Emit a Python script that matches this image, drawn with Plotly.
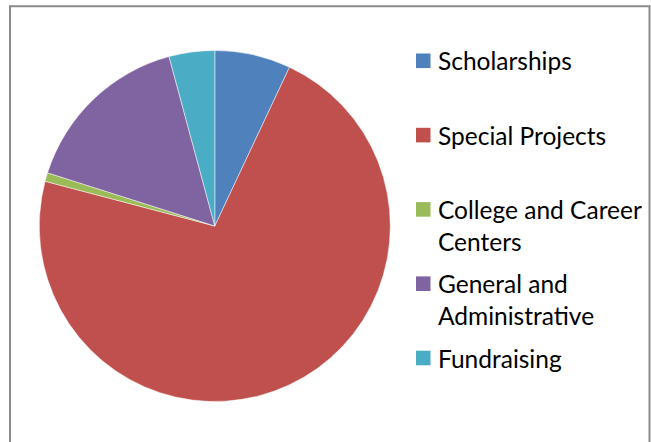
import plotly.graph_objects as go

W, H = 651, 442

categories = ["Scholarships", "Special Projects", "College and Career<br>Centers",
              "General and<br>Administrative", "Fundraising"]
values = [7.0, 72.1, 0.8, 15.9, 4.2]
colors = ["#4F81BD", "#C0504D", "#9BBB59", "#8064A2", "#4BACC6"]

fig = go.Figure(go.Pie(
    labels=categories,
    values=values,
    sort=False,
    direction="clockwise",
    rotation=0,
    textinfo="none",
    hoverinfo="label+percent",
    showlegend=False,
    marker=dict(colors=colors, line=dict(color="rgba(255,255,255,0.6)", width=0.8)),
    domain=dict(x=[39.3 / W, 390.3 / W], y=[1 - 401.5 / H, 1 - 50.5 / H]),
))

# Legend (Excel-style: equal slots, key aligned with first text line)
FONT = 24.5
LINE = 1.3 * FONT
SLOT = 74.3
TOP = 60.8
shapes = [dict(type="rect", xref="paper", yref="paper",
               x0=10 / W, x1=649.5 / W, y0=-0.2, y1=1 - 6.2 / H,
               line=dict(color="#8A8A8A", width=2), fillcolor="rgba(0,0,0,0)",
               layer="below")]
annotations = []
for i, (lab, col) in enumerate(zip(categories, colors)):
    cy = TOP + i * SLOT
    shapes.append(dict(type="rect", xref="paper", yref="paper",
                       x0=416 / W, x1=430.5 / W,
                       y0=1 - (cy + 7.3) / H, y1=1 - (cy - 7.3) / H,
                       line=dict(width=0), fillcolor=col))
    nlines = lab.count("<br>") + 1
    ty = cy + (nlines - 1) * LINE / 2
    annotations.append(dict(text=lab, xref="paper", yref="paper",
                            x=436 / W, y=1 - ty / H, xanchor="left", yanchor="middle",
                            align="left", showarrow=False,
                            font=dict(size=FONT, family="Lato, sans-serif", color="#000000")))

fig.update_layout(
    width=W, height=H,
    margin=dict(l=0, r=0, t=0, b=0),
    paper_bgcolor="white",
    plot_bgcolor="white",
    font=dict(family="Lato, sans-serif", color="#000000"),
    showlegend=False,
    shapes=shapes,
    annotations=annotations,
)

fig.write_html("out.html")
